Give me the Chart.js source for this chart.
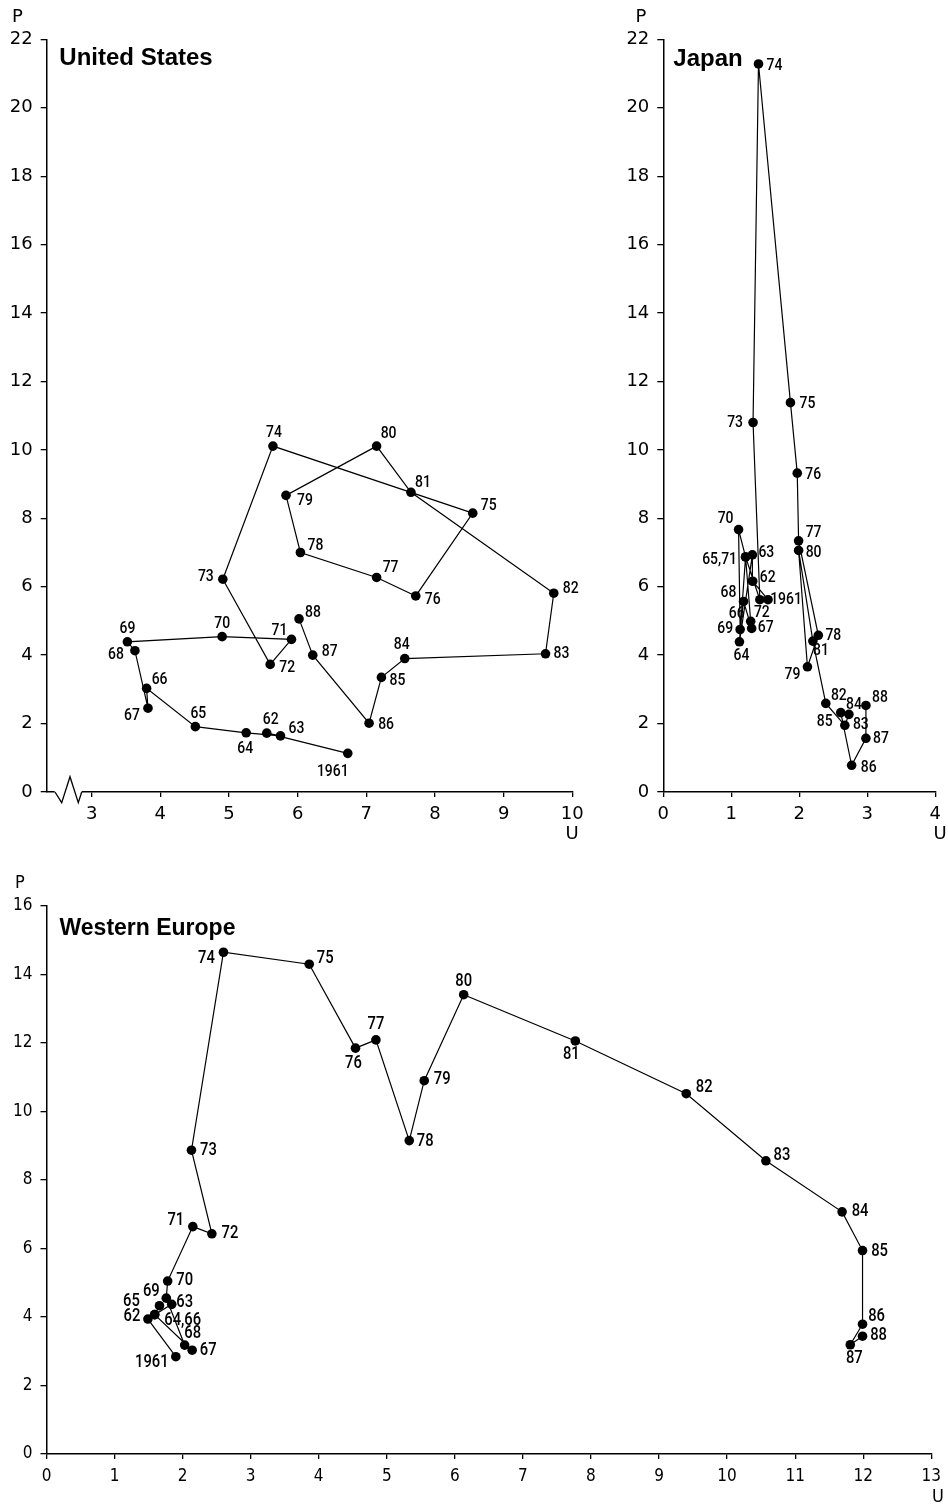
<!DOCTYPE html>
<html lang="en">
<head>
<meta charset="utf-8">
<title>Inflation and unemployment 1961-88</title>
<script src="https://cdn.jsdelivr.net/npm/chart.js@4.4.1/dist/chart.umd.min.js"></script>
<style>
  html, body { margin: 0; padding: 0; background: #fff; }
  #wrap { position: relative; width: 948px; height: 1507px; overflow: hidden; }
  canvas { position: absolute; }
  #usChart { left: 0; top: 0; }
  #jpChart { left: 600px; top: 0; }
  #weChart { left: 0; top: 850px; }
</style>
</head>
<body>
<div id="wrap">
  <canvas id="usChart" width="620" height="850"></canvas>
  <canvas id="jpChart" width="348" height="850"></canvas>
  <canvas id="weChart" width="948" height="657"></canvas>
</div>
<script>
// Years, one point per year
const years = ['1961', '62', '63', '64', '65', '66', '67', '68', '69', '70', '71', '72', '73', '74',
  '75', '76', '77', '78', '79', '80', '81', '82', '83', '84', '85', '86', '87', '88'];

// United States: U = unemployment, P = inflation (%)
const usU = [6.73, 5.55, 5.75, 5.25, 4.51, 3.80, 3.82, 3.63, 3.52, 4.90, 5.91, 5.60, 4.91, 5.64,
  8.55, 7.72, 7.15, 6.04, 5.83, 7.15, 7.65, 9.73, 9.61, 7.56, 7.22, 7.04, 6.22, 6.02];
const usP = [1.13, 1.72, 1.64, 1.73, 1.91, 3.03, 2.45, 4.13, 4.39, 4.54, 4.46, 3.73, 6.22, 10.11,
  8.15, 5.73, 6.27, 7.00, 8.67, 10.11, 8.76, 5.81, 4.04, 3.90, 3.35, 2.01, 4.00, 5.06];
const usXTicks = [3, 4, 5, 6, 7, 8, 9, 10];
const usYTicks = [0, 2, 4, 6, 8, 10, 12, 14, 16, 18, 20, 22];

// Japan (65 and 71 fall on the same point)
const jpU = [1.54, 1.315, 1.31, 1.12, 1.21, 1.285, 1.30, 1.18, 1.13, 1.107, 1.21, 1.42, 1.32, 1.40,
  1.87, 1.97, 1.99, 2.28, 2.12, 1.99, 2.20, 2.39, 2.67, 2.73, 2.61, 2.77, 2.98, 2.98];
const jpP = [5.62, 6.16, 6.93, 4.39, 6.87, 4.99, 4.78, 5.57, 4.75, 7.67, 6.87, 5.62, 10.80, 21.28,
  11.38, 9.32, 7.34, 4.58, 3.66, 7.06, 4.41, 2.59, 1.95, 2.27, 2.32, 0.78, 1.57, 2.53];
const jpLabels = ['1961', '62', '63', '64', '65,71', '66', '67', '68', '69', '70', '', '72', '73', '74',
  '75', '76', '77', '78', '79', '80', '81', '82', '83', '84', '85', '86', '87', '88'];
const jpXTicks = [0, 1, 2, 3, 4];
const jpYTicks = [0, 2, 4, 6, 8, 10, 12, 14, 16, 18, 20, 22];

// Western Europe (64 and 66 fall on the same point)
const weU = [1.90, 1.49, 1.84, 1.59, 1.66, 1.59, 2.14, 2.03, 1.76, 1.78, 2.15, 2.43, 2.13, 2.60,
  3.86, 4.54, 4.84, 5.33, 5.55, 6.13, 7.77, 9.40, 10.57, 11.69, 11.99, 11.99, 11.81, 11.99];
const weP = [2.84, 3.94, 4.37, 4.07, 4.33, 4.07, 3.03, 3.18, 4.55, 5.05, 6.64, 6.43, 8.87, 14.65,
  14.30, 11.85, 12.09, 9.15, 10.90, 13.41, 12.06, 10.52, 8.56, 7.07, 5.94, 3.79, 3.19, 3.44];
const weLabels = ['1961', '62', '63', '64,66', '65', '', '67', '68', '69', '70', '71', '72', '73', '74',
  '75', '76', '77', '78', '79', '80', '81', '82', '83', '84', '85', '86', '87', '88'];
const weXTicks = [0, 1, 2, 3, 4, 5, 6, 7, 8, 9, 10, 11, 12, 13];
const weYTicks = [0, 2, 4, 6, 8, 10, 12, 14, 16];

// Where each year label sits relative to its point [dx, dy] in px
const usLabelOffsets = [[-15, 18], [4, -13], [16, -7], [-1, 16], [3, -13], [13, -9], [-16, 8],
  [-19, 4], [0, -13], [0, -13], [-12, -9], [17, 3], [-17, -2], [1, -13], [16, -7], [17, 4],
  [14, -10], [15, -7], [19, 5], [12, -12], [12, -10], [17, -4], [16, 0], [-3, -14], [16, 3],
  [17, 2], [17, -3], [14, -6]];
const jpLabelOffsets = [[18, 0], [15, -3], [14, -2], [2, 14], [-26, 3], [-14, -8], [14, -1],
  [-15, -9], [-15, -1], [-13, -11], [0, 0], [2, 13], [-18, 0], [16, 2], [17, 1], [16, 2],
  [15, -8], [15, 0], [-15, 8], [15, 2], [8, 10], [13, -8], [16, -1], [5, -10], [-16, 9],
  [17, 2], [15, 0], [14, -8]];
const weLabelOffsets = [[-24, 6], [-16, -3], [13, -2], [28, 6], [-28, -4], [0, 0], [16, 0],
  [8, -12], [-15, -7], [17, -1], [-17, -6], [18, 0], [17, 0], [-17, 6], [16, -6], [-2, 15],
  [0, -15], [16, 1], [18, -1], [0, -13], [-4, 14], [18, -6], [16, -5], [18, 0], [17, 1],
  [14, -8], [4, 14], [16, -1]];

const narrowFamily = '"Liberation Sans Narrow", "DejaVu Sans Condensed", "Roboto Condensed", Roboto, sans-serif';

/**
 * Draws title, axis names, year labels and the axis break for a panel.
 */
const panelPlugin = {
  id: 'panel',
  afterDatasetsDraw(chart, args, o) {
    const ctx = chart.ctx;
    const area = chart.chartArea;
    ctx.save();
    ctx.fillStyle = '#000';
    ctx.strokeStyle = '#000';

    // Axis break on the U axis (United States)
    if (o.axisBreak) {
      const x0 = area.left;
      const y0 = area.bottom;
      ctx.fillStyle = '#fff';
      ctx.fillRect(x0 + 8, y0 - 2, 27, 4);
      ctx.fillStyle = '#000';
      ctx.lineWidth = 1.3;
      ctx.beginPath();
      ctx.moveTo(x0 + 8.3, y0);
      ctx.lineTo(x0 + 15, y0 + 10.7);
      ctx.lineTo(x0 + 23.3, y0 - 15.3);
      ctx.lineTo(x0 + 31.6, y0 + 10.7);
      ctx.lineTo(x0 + 35, y0);
      ctx.stroke();
    }

    // Year labels, squeezed a little to look like the condensed original
    ctx.font = o.labelFont;
    ctx.textAlign = 'center';
    ctx.textBaseline = 'middle';
    chart.getDatasetMeta(0).data.forEach((pt, i) => {
      const text = o.labels[i];
      if (!text) return;
      const [dx, dy] = o.offsets[i];
      ctx.save();
      ctx.translate(pt.x + dx, pt.y + dy);
      ctx.scale(0.82, 1);
      ctx.fillText(text, 0, 0);
      ctx.restore();
    });

    // Panel title inside the plot
    ctx.font = o.titleFont;
    ctx.textAlign = 'left';
    ctx.textBaseline = 'alphabetic';
    ctx.fillText(o.title, area.left + o.titlePos[0], area.top + o.titlePos[1]);

    // Axis names
    ctx.font = o.axisFont;
    ctx.textAlign = 'center';
    ctx.textBaseline = 'middle';
    ctx.fillText('P', o.pPos[0], o.pPos[1]);
    ctx.fillText('U', o.uPos[0], o.uPos[1]);
    ctx.restore();
  }
};

/**
 * Creates one U/P scatter panel with connected points.
 * @param {Object} cfg - panel settings
 */
function createPanel(cfg) {
  const canvas = document.getElementById(cfg.id);
  const points = cfg.u.map((u, i) => ({ x: u, y: cfg.p[i] }));
  const axisColor = '#000';

  new Chart(canvas, {
    type: 'scatter',
    data: {
      datasets: [{
        data: points,
        showLine: true,
        borderColor: '#000',
        borderWidth: 1.2,
        pointRadius: 4.8,
        pointBackgroundColor: '#000',
        pointBorderWidth: 0,
        tension: 0
      }]
    },
    options: {
      responsive: false,
      animation: false,
      events: [],
      layout: {
        padding: { left: 0, top: cfg.area.top, right: canvas.width - cfg.area.right, bottom: 0 }
      },
      scales: {
        x: {
          type: 'linear',
          min: cfg.xMin,
          max: cfg.xMax,
          afterBuildTicks: s => { s.ticks = cfg.xTicks.map(v => ({ value: v })); },
          afterFit: s => { s.height = canvas.height - cfg.area.bottom; },
          grid: { drawOnChartArea: false, drawTicks: true, tickLength: 5, color: axisColor, lineWidth: 1.3 },
          border: { display: true, color: axisColor, width: 1.5 },
          ticks: { font: cfg.tickFont, color: '#000', padding: 7, autoSkip: false, maxRotation: 0 }
        },
        y: {
          type: 'linear',
          min: 0,
          max: cfg.yMax,
          afterBuildTicks: s => { s.ticks = cfg.yTicks.map(v => ({ value: v })); },
          afterFit: s => { s.width = cfg.area.left; },
          grid: { drawOnChartArea: false, drawTicks: true, tickLength: 6, color: axisColor, lineWidth: 1.3 },
          border: { display: true, color: axisColor, width: 1.5 },
          ticks: { font: cfg.tickFont, color: '#000', padding: 8, autoSkip: false }
        }
      },
      plugins: {
        legend: { display: false },
        tooltip: { enabled: false },
        panel: {
          title: cfg.title,
          titleFont: cfg.titleFont,
          titlePos: cfg.titlePos,
          labelFont: cfg.labelFont,
          axisFont: cfg.axisFont,
          labels: cfg.labels,
          offsets: cfg.offsets,
          pPos: cfg.pPos,
          uPos: cfg.uPos,
          axisBreak: cfg.axisBreak
        }
      }
    },
    plugins: [panelPlugin]
  });
}

const topTickFont = { family: 'DejaVu Sans', size: 18 };
const narrowTickFont = { family: narrowFamily, size: 17 };

createPanel({
  id: 'usChart', title: 'United States',
  u: usU, p: usP, labels: years, offsets: usLabelOffsets,
  xMin: 2.345, xMax: 10, yMax: 22, xTicks: usXTicks, yTicks: usYTicks,
  area: { left: 46.7, top: 39.3, right: 572.3, bottom: 792 },
  tickFont: topTickFont, axisFont: '18px "DejaVu Sans"',
  titleFont: 'bold 24px "Liberation Sans"', titlePos: [12.6, 26],
  labelFont: '500 17px Roboto',
  pPos: [17.5, 17.5], uPos: [572, 834], axisBreak: true
});

createPanel({
  id: 'jpChart', title: 'Japan',
  u: jpU, p: jpP, labels: jpLabels, offsets: jpLabelOffsets,
  xMin: 0, xMax: 4, yMax: 22, xTicks: jpXTicks, yTicks: jpYTicks,
  area: { left: 63.3, top: 39.3, right: 340, bottom: 792 },
  tickFont: topTickFont, axisFont: '18px "DejaVu Sans"',
  titleFont: 'bold 24px "Liberation Sans"', titlePos: [10, 26.7],
  labelFont: '500 17px Roboto',
  pPos: [41, 17.5], uPos: [340, 834], axisBreak: false
});

createPanel({
  id: 'weChart', title: 'Western Europe',
  u: weU, p: weP, labels: weLabels, offsets: weLabelOffsets,
  xMin: 0, xMax: 13, yMax: 16, xTicks: weXTicks, yTicks: weYTicks,
  area: { left: 46.5, top: 56, right: 938.4, bottom: 604 },
  tickFont: narrowTickFont, axisFont: '18px ' + narrowFamily,
  titleFont: 'bold 23px "Liberation Sans"', titlePos: [13, 29],
  labelFont: '500 18px Roboto',
  pPos: [20, 33], uPos: [938, 647], axisBreak: false
});
</script>
</body>
</html>
